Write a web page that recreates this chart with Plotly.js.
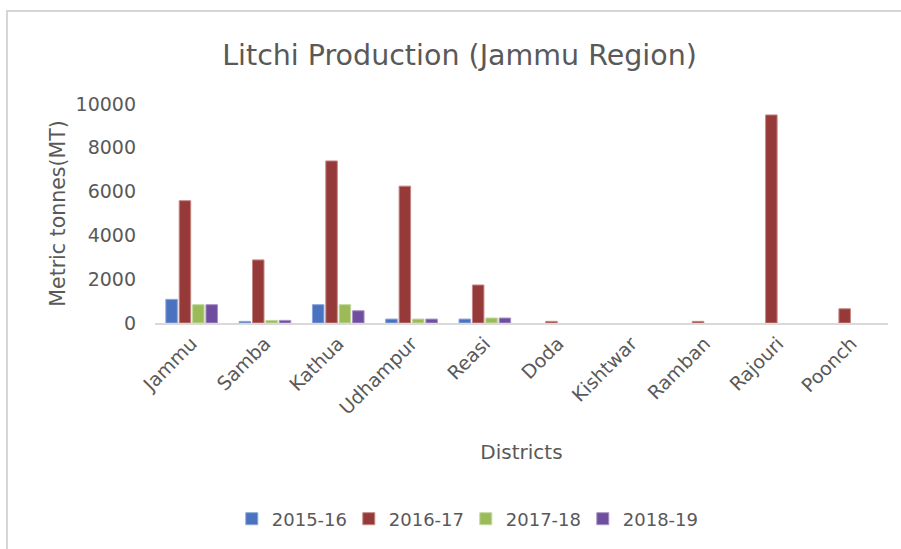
<!DOCTYPE html>
<html>
<head>
<meta charset="utf-8">
<script src="https://cdn.plot.ly/plotly-3.0.1.min.js"></script>
<style>
  html, body { margin: 0; padding: 0; background: #fff; overflow: hidden; }
  #wrap { position: relative; width: 901px; height: 549px; overflow: hidden; }
  #chart { width: 901px; height: 549px; }
  #frame { position: absolute; left: 6px; top: 10px; right: -4px; bottom: -4px;
           border-top: 2px solid #d6d6d6; border-left: 2px solid #d6d6d6; pointer-events: none; }
</style>
</head>
<body>
<div id="wrap">
  <div id="chart"></div>
  <div id="frame"></div>
</div>
<script>
const districts = ["Jammu", "Samba", "Kathua", "Udhampur", "Reasi", "Doda", "Kishtwar", "Ramban", "Rajouri", "Poonch"];
const seriesNames = ["2015-16", "2016-17", "2017-18", "2018-19"];
const y2015_16 = [1080, 75, 836, 180, 180, null, null, null, null, null];
const y2016_17 = [5585, 2880, 7400, 6250, 1735, 75, null, 75, 9500, 650];
const y2017_18 = [836, 120, 836, 180, 228, null, null, null, null, null];
const y2018_19 = [836, 120, 560, 180, 228, null, null, null, null, null];
const yTicks = [0, 2000, 4000, 6000, 8000, 10000];

const colors = ["#4A72C0", "#953A38", "#9BBB59", "#6F4E9F"];
const lineColors = ["#8AA6DA", "#C48684", "#C3D89C", "#A992C6"];
const values = [y2015_16, y2016_17, y2017_18, y2018_19];

const FONT = "DejaVu Sans, sans-serif";
const traces = values.map((v, i) => ({
  type: "bar",
  name: seriesNames[i],
  x: districts,
  y: v,
  marker: { color: colors[i], line: { color: lineColors[i], width: 1 } },
  hoverinfo: "x+y+name"
}));

const layout = {
  width: 901, height: 549,
  margin: { l: 155, r: 13, t: 104, b: 226 },
  paper_bgcolor: "#ffffff",
  plot_bgcolor: "#ffffff",
  barmode: "group",
  bargap: 0.27,
  bargroupgap: 0.14,
  title: {
    text: "Litchi Production (Jammu Region)",
    font: { family: FONT, size: 28.5, color: "#595959" },
    x: 0.51, xref: "container", xanchor: "center",
    y: 0.9, yref: "container", yanchor: "middle"
  },
  xaxis: {
    type: "category",
    tickangle: -45,
    tickfont: { family: FONT, size: 19, color: "#595959" },
    showline: true, linecolor: "#d9d9d9", linewidth: 2,
    ticks: "", showgrid: false, zeroline: false,
    title: { text: "Districts", font: { family: FONT, size: 20, color: "#595959" }, standoff: 27 }
  },
  yaxis: {
    range: [0, 10000],
    tickvals: yTicks,
    ticktext: yTicks.map(String),
    tickfont: { family: FONT, size: 19, color: "#595959" },
    showgrid: false, zeroline: false, showline: false, ticks: "",
    ticklabelstandoff: 18,
    title: { text: "Metric tonnes(MT)", font: { family: FONT, size: 20.5, color: "#595959" }, standoff: 4 }
  },
  showlegend: true,
  legend: {
    orientation: "h",
    x: 0.424, xanchor: "center",
    y: -0.895, yanchor: "middle",
    font: { family: FONT, size: 18, color: "#595959" },
    itemwidth: 30,
    entrywidth: 72,
    entrywidthmode: "pixels",
    bgcolor: "rgba(0,0,0,0)"
  }
};

Plotly.newPlot("chart", traces, layout, { displayModeBar: false, staticPlot: true });
</script>
</body>
</html>
